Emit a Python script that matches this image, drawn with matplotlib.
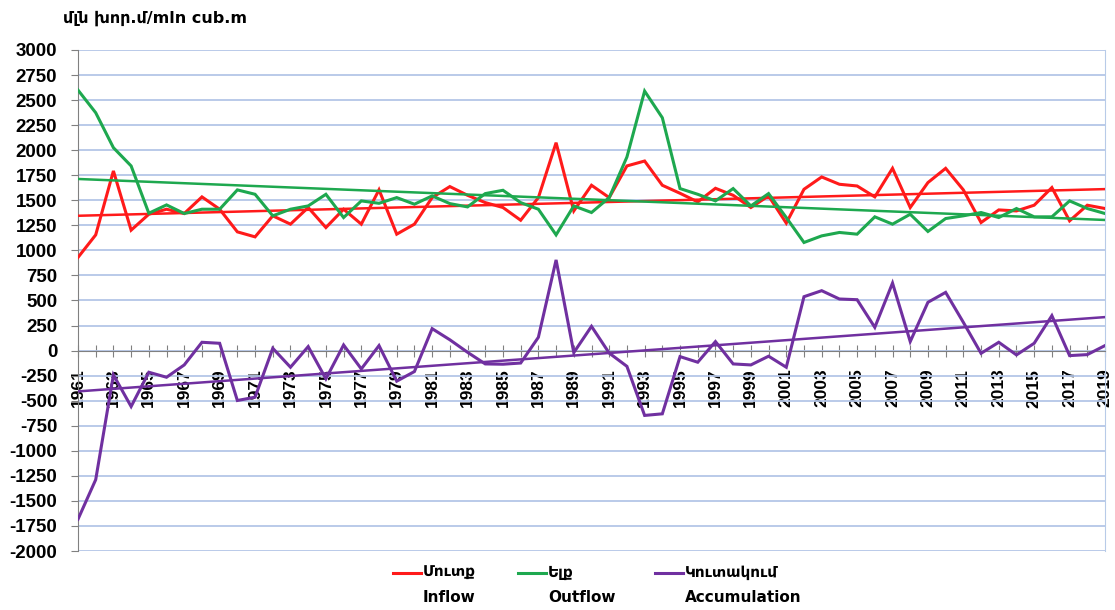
import numpy as np
import matplotlib
matplotlib.use("Agg")
import matplotlib.pyplot as plt
from matplotlib.lines import Line2D

plt.rcParams['font.family'] = ['Liberation Sans', 'DejaVu Sans']
plt.rcParams['axes.unicode_minus'] = False

years = list(range(1961, 2020))
inflow = [930, 1155, 1793, 1202, 1361, 1411, 1368, 1534, 1411, 1185,
          1135, 1345, 1262, 1428, 1228, 1411, 1262, 1605, 1162, 1262,
          1527, 1637, 1550, 1477, 1428, 1301, 1527, 2075, 1394, 1650,
          1527, 1843, 1892, 1650, 1570, 1484, 1620, 1550, 1428, 1544,
          1272, 1610, 1733, 1660, 1643, 1534, 1819, 1428, 1677, 1819,
          1604, 1278, 1404, 1394, 1451, 1627, 1295, 1451, 1418]
outflow = [2600, 2374, 2025, 1843, 1371, 1454, 1368, 1411, 1411, 1604,
           1560, 1345, 1411, 1444, 1560, 1328, 1494, 1470, 1527, 1461,
           1544, 1467, 1434, 1567, 1600, 1477, 1411, 1155, 1444, 1378,
           1527, 1932, 2590, 2324, 1617, 1560, 1494, 1617, 1444, 1567,
           1328, 1079, 1145, 1179, 1162, 1335, 1262, 1361, 1189, 1318,
           1345, 1378, 1328, 1418, 1335, 1335, 1494, 1418, 1368]
accumulation = [-1683, -1288, -242, -558, -216, -266, -143, 83, 73, -498,
                -465, 23, -166, 40, -282, 56, -183, 50, -305, -209,
                219, 108, -17, -133, -136, -124, 133, 905, -20, 242,
                -25, -157, -647, -631, -60, -116, 90, -133, -143, -56,
                -166, 538, 598, 515, 508, 232, 674, 90, 482, 581,
                282, -27, 83, -43, 73, 349, -50, -40, 50]

series_labels = [("Մուտք", "Inflow"), ("Ելք", "Outflow"), ("Կուտակում", "Accumulation")]
colors = ["#ff1a1a", "#1ea84f", "#7030a0"]
unit_label = "մլն խոր.մ/mln cub.m"
yticks = list(range(-2000, 3001, 250))

fig = plt.figure(figsize=(11.15, 6.1), dpi=100)
ax = fig.add_axes([78/1115, 1 - 551/610, (1105-78)/1115, (551-50)/610])

x = np.array(years)
for data, c in zip([inflow, outflow, accumulation], colors):
    ax.plot(x, data, color=c, lw=2.2, solid_joinstyle='miter', zorder=3)
    p = np.polyfit(x, data, 1)
    ax.plot(x, np.polyval(p, x), color=c, lw=1.8, zorder=3)

ax.set_xlim(1961, 2019)
ax.set_ylim(-2000, 3000)
ax.set_yticks(yticks)
ax.yaxis.grid(True, color="#b4c6e7", lw=1.3)
ax.set_axisbelow(True)

ax.spines['bottom'].set_position(('data', 0))
ax.spines['bottom'].set_color('#808080')
ax.spines['left'].set_color('#808080')
ax.spines['top'].set_visible(False)
ax.spines['right'].set_color('#b8cbe8')

ax.set_xticks(years)
ax.set_xticklabels([str(y) if (y - 1961) % 2 == 0 else "" for y in years],
                   rotation=90, fontsize=12.5, fontweight='bold')
ax.tick_params(axis='x', direction='inout', length=8, color='#808080', pad=9)
ax.tick_params(axis='y', direction='out', length=5, color='#808080',
               labelsize=13.5, pad=10)
for lab in ax.get_yticklabels():
    lab.set_fontweight('bold')

fig.text(63/1115, 1 - 18/610, unit_label, fontsize=11.5, fontweight='bold',
         va='center', ha='left', family=['DejaVu Sans'])

# manual legend
legend_x = [393, 518, 655]
for (arm, eng), c, lx in zip(series_labels, colors, legend_x):
    fig.add_artist(Line2D([lx/1115, (lx+28)/1115], [1 - 573/610]*2, color=c, lw=2.2))
    fig.text((lx+30)/1115, 1 - 573/610, arm, fontsize=11, fontweight='bold',
             va='center', ha='left', family=['DejaVu Sans'])
    fig.text((lx+30)/1115, 1 - 598/610, eng, fontsize=11, fontweight='bold',
             va='center', ha='left', family=['DejaVu Sans'])

fig.savefig("out.png", dpi=100)
